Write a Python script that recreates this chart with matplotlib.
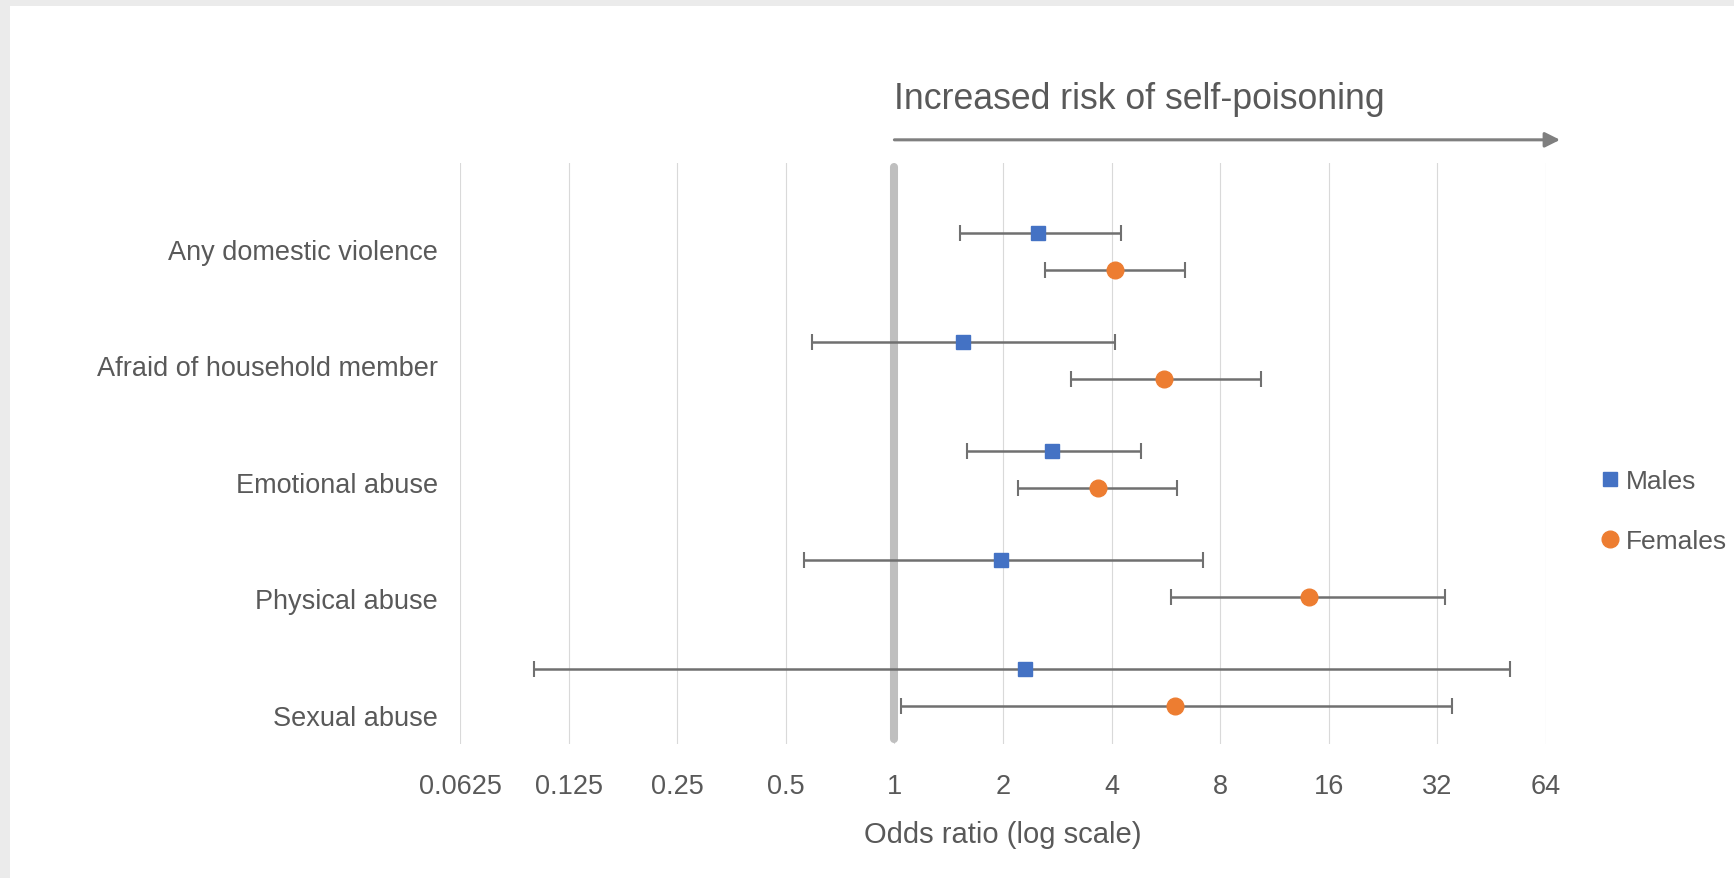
import matplotlib
matplotlib.use("Agg")
import matplotlib.pyplot as plt
from matplotlib.patches import Rectangle
import numpy as np

# ---- data ----
categories = ["Any domestic violence", "Afraid of household member",
              "Emotional abuse", "Physical abuse", "Sexual abuse"]
males_or = [2.50, 1.55, 2.74, 1.98, 2.30]
males_lo = [1.52, 0.59, 1.59, 0.56, 0.10]
males_hi = [4.25, 4.10, 4.83, 7.17, 51.0]
females_or = [4.10, 5.60, 3.67, 14.1, 6.01]
females_lo = [2.61, 3.09, 2.20, 5.84, 1.04]
females_hi = [6.40, 10.35, 6.09, 33.6, 35.1]
xticks = [0.0625, 0.125, 0.25, 0.5, 1, 2, 4, 8, 16, 32, 64]
xtick_labels = ["0.0625", "0.125", "0.25", "0.5", "1", "2", "4", "8", "16", "32", "64"]

W, H = 1734, 879
DPI = 100
fig = plt.figure(figsize=(W / DPI, H / DPI), dpi=DPI, facecolor="#ebebeb")
fig.patches.append(Rectangle((10 / W, 0), 1, 1 - 7 / H, transform=fig.transFigure,
                             facecolor="white", edgecolor="none", zorder=-10))

FONT = ["Liberation Sans", "DejaVu Sans"]
TXT = "#595959"

ax_l, ax_r = 460, 1546
ax_t, ax_b = 163.5, 745
ax = fig.add_axes([ax_l / W, 1 - ax_b / H, (ax_r - ax_l) / W, (ax_b - ax_t) / H])
ax.set_facecolor("none")
ax.set_xscale("log", base=2)
ax.set_xlim(0.0625, 64)
ax.set_ylim(4.517, -0.817)

for s in ax.spines.values():
    s.set_visible(False)

ax.set_xticks(xticks)
ax.set_xticklabels(xtick_labels, fontfamily=FONT, fontsize=19.5, color=TXT)
ax.xaxis.set_minor_locator(matplotlib.ticker.NullLocator())
ax.tick_params(axis="x", length=0, pad=21)
ax.grid(axis="x", color="#d9d9d9", linewidth=0.8)
ax.set_axisbelow(True)

n = len(categories)
idx = np.arange(n)
label_pos = -0.025 + idx * 1.068
ax.set_yticks(label_pos)
ax.set_yticklabels(categories, fontfamily=FONT, fontsize=19.5, color=TXT)
ax.tick_params(axis="y", length=0, pad=16)

ax.set_xlabel("Odds ratio (log scale)", fontfamily=FONT, fontsize=21, color=TXT, labelpad=15)

# reference line at OR = 1
ax.axvline(1, ymin=0.008, ymax=0.992, color="#bfbfbf", linewidth=5.8,
           solid_capstyle="round", zorder=1)

off = 0.167
ym = idx - off
yf = idx + off
ebkw = dict(fmt="none", ecolor="#707070", elinewidth=1.8, capsize=5.6, capthick=1.5, zorder=2)
ax.errorbar(males_or, ym,
            xerr=[np.array(males_or) - np.array(males_lo), np.array(males_hi) - np.array(males_or)],
            **ebkw)
ax.errorbar(females_or, yf,
            xerr=[np.array(females_or) - np.array(females_lo), np.array(females_hi) - np.array(females_or)],
            **ebkw)
ax.plot(males_or, ym, linestyle="none", marker="s", markersize=9.6,
        color="#4472c4", zorder=3, label="Males")
ax.plot(females_or, yf, linestyle="none", marker="o", markersize=12,
        color="#ed7d31", zorder=3, label="Females")

# arrow and annotation
ax.annotate("", xy=(70, -1.025), xytext=(1, -1.025), xycoords="data", textcoords="data",
            annotation_clip=False,
            arrowprops=dict(arrowstyle="-|>,head_length=0.9,head_width=0.45",
                            color="#7f7f7f", lw=2.2, shrinkA=0, shrinkB=0))
ax.text(1, -1.40, "Increased risk of self-poisoning", fontfamily=FONT, fontsize=25.7,
        color=TXT, ha="left", va="center", clip_on=False)

leg = fig.legend(loc="upper left", bbox_to_anchor=(1602 / W, 1 - 470 / H),
                 frameon=False, prop={"family": FONT, "size": 19}, labelcolor=TXT,
                 handlelength=0.6, handletextpad=0.3, labelspacing=1.37,
                 borderaxespad=0, borderpad=0)

fig.savefig("out.png", dpi=DPI, facecolor=fig.get_facecolor())
